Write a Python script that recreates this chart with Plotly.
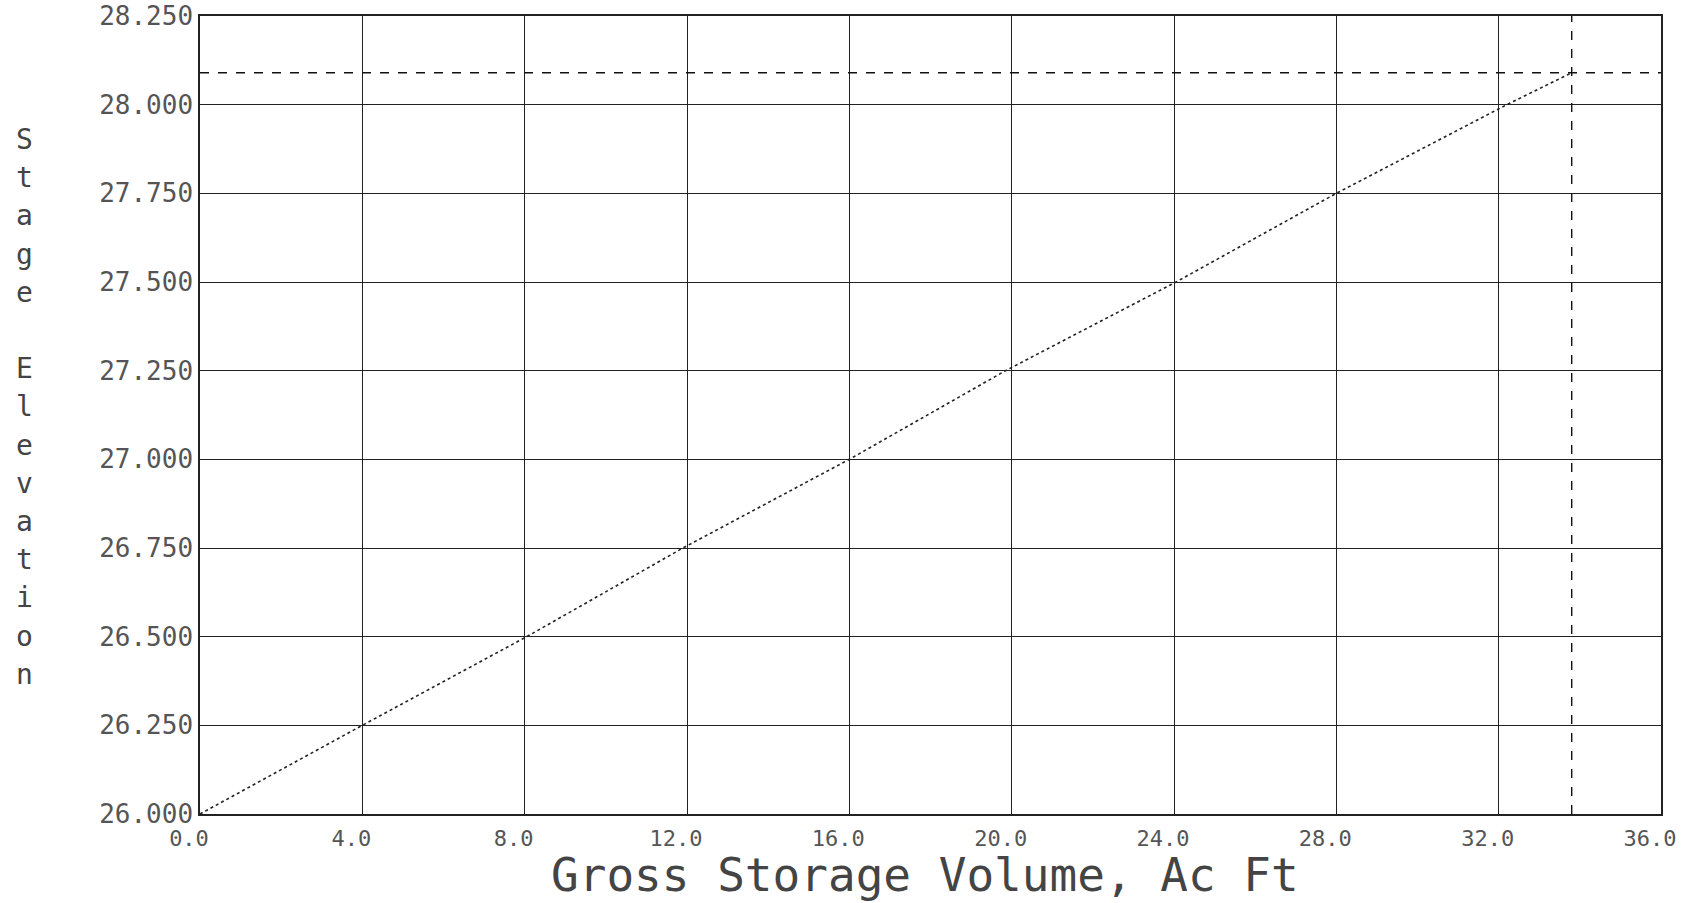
import plotly.graph_objects as go

# Data
volume = [0.0, 4.0, 8.05, 11.9, 16.0, 19.85, 24.05, 28.0, 32.2, 33.8]
elevation = [26.0, 26.25, 26.5, 26.75, 27.0, 27.25, 27.5, 27.75, 28.0, 28.09]
marker_volume = 33.8
marker_elevation = 28.09

x_ticks = [0, 4, 8, 12, 16, 20, 24, 28, 32, 36]
x_tick_labels = ["0.0", "4.0", "8.0", "12.0", "16.0", "20.0", "24.0", "28.0", "32.0", "36.0"]
y_ticks = [26.0, 26.25, 26.5, 26.75, 27.0, 27.25, 27.5, 27.75, 28.0, 28.25]
y_tick_labels = ["26.000", "26.250", "26.500", "26.750", "27.000", "27.250", "27.500", "27.750", "28.000", "28.250"]

x_title = "Gross Storage Volume, Ac Ft"
y_title = "Stage Elevation"

W, H = 1683, 903
# target plot area in page pixels: x 200..1661, y 16..814
L, T = 200, 16
R = W - 1661
B = H - 814

fig = go.Figure()
fig.add_trace(go.Scatter(
    x=volume, y=elevation, mode="lines",
    line=dict(color="#222222", width=1.6, dash="dot"),
    showlegend=False, hoverinfo="skip",
))

# marker dashed lines
fig.add_shape(type="line", xref="x", yref="paper", x0=marker_volume, x1=marker_volume, y0=0, y1=1,
              line=dict(color="#111111", width=1.4, dash="dash"))
fig.add_shape(type="line", xref="paper", yref="y", x0=0, x1=1, y0=marker_elevation, y1=marker_elevation,
              line=dict(color="#111111", width=1.4, dash="dash"))

mono = "DejaVu Sans Mono"

fig.update_xaxes(
    range=[0, 36], tickvals=x_ticks, ticktext=x_tick_labels,
    showgrid=True, gridcolor="#222222", gridwidth=1,
    showline=True, linecolor="#222222", linewidth=1.5, mirror=True,
    zeroline=False, ticks="", ticklabeloverflow="allow", automargin=False,
    ticklabelshift=-11, ticklabelstandoff=4,
    tickfont=dict(family=mono, size=22, color="#555555"),
)
fig.update_yaxes(
    range=[26.0, 28.25], tickvals=y_ticks, ticktext=y_tick_labels,
    showgrid=True, gridcolor="#222222", gridwidth=1,
    showline=True, linecolor="#222222", linewidth=1.5, mirror=True,
    zeroline=False, ticks="", ticklabelstandoff=0, ticklabeloverflow="allow", automargin=False,
    tickfont=dict(family=mono, size=26, color="#555555"),
)

plot_w = W - L - R
plot_h = H - T - B

def px_to_paper_x(px):
    return (px - L) / plot_w

def px_to_paper_y(py):
    return (H - B - py) / plot_h

# x-axis title
fig.add_annotation(
    text=x_title, xref="paper", yref="paper", x=px_to_paper_x(925), y=px_to_paper_y(875),
    showarrow=False, xanchor="center", yanchor="middle",
    font=dict(family=mono, size=46, color="#444444"),
)

# y-axis title, stacked upright letters
for i, ch in enumerate(y_title):
    if ch == " ":
        continue
    ypix = 139.5 + 38.2 * i
    fig.add_annotation(
        text=ch, xref="paper", yref="paper",
        x=px_to_paper_x(24), y=px_to_paper_y(ypix),
        showarrow=False, xanchor="center", yanchor="middle",
        font=dict(family=mono, size=28, color="#444444"),
    )

fig.update_layout(
    width=W, height=H,
    margin=dict(l=L, r=R, t=T, b=B),
    paper_bgcolor="white", plot_bgcolor="white",
)

fig.write_html("out.html", config={"displayModeBar": False},
               post_script="document.body.style.margin='0';")
